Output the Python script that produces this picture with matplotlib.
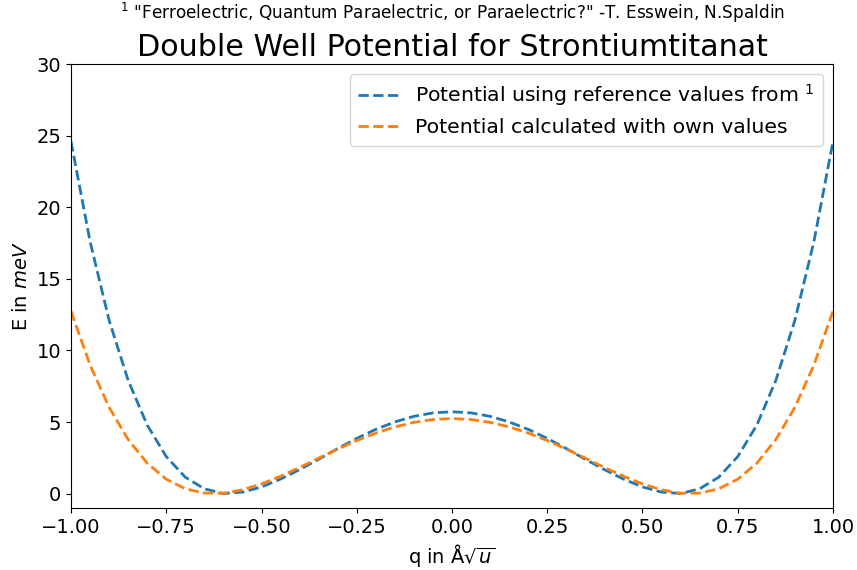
import numpy as np
import matplotlib
matplotlib.use("Agg")
import matplotlib.pyplot as plt

# displacement q in Angstrom*sqrt(u)
q = np.round(np.arange(-1.0, 1.0001, 0.05), 2)

# potential in meV, reference parameters (Esswein / Spaldin)
E_ref = [24.60, 17.61, 12.11, 7.91, 4.79, 2.59, 1.15, 0.34, 0.01, 0.11,
         0.47, 1.02, 1.68, 2.40, 3.15, 3.86, 4.49, 5.01, 5.40, 5.64,
         5.72,
         5.64, 5.40, 5.01, 4.49, 3.86, 3.15, 2.40, 1.68, 1.02, 0.47,
         0.11, 0.01, 0.34, 1.15, 2.59, 4.79, 7.91, 12.11, 17.61, 24.60]

# potential in meV, own parameters
E_own = [12.74, 8.99, 6.03, 3.78, 2.13, 1.01, 0.34, 0.04, 0.03, 0.27,
         0.68, 1.22, 1.83, 2.48, 3.11, 3.71, 4.23, 4.66, 4.98, 5.18,
         5.25,
         5.18, 4.98, 4.66, 4.23, 3.71, 3.11, 2.48, 1.83, 1.22, 0.68,
         0.27, 0.03, 0.04, 0.34, 1.01, 2.13, 3.78, 6.03, 8.99, 12.74]

fig = plt.figure(figsize=(8.57, 5.70), dpi=100)
ax = fig.add_axes([71/857, 1 - 508/570, 762/857, 444/570])

ax.plot(q, E_ref, "--", color="#1f77b4", linewidth=2,
        label="Potential using reference values from $^1$")
ax.plot(q, E_own, "--", color="#ff7f0e", linewidth=2,
        label="Potential calculated with own values")

ax.set_xlim(-1, 1)
ax.set_ylim(-1, 30)
ax.set_xticks(np.arange(-1, 1.01, 0.25))
ax.tick_params(labelsize=14)
ax.set_xlabel(r"q in Å$\sqrt{u}$", fontsize=14)
ax.set_ylabel(r"E in $meV$", fontsize=14)
ax.set_title("Double Well Potential for Strontiumtitanat", fontsize=21.7)
fig.text(0.528, 0.978, r'$^1$ "Ferroelectric, Quantum Paraelectric, or Paraelectric?" -T. Esswein, N.Spaldin',
         ha="center", va="center", fontsize=12.2)

ax.legend(loc="upper right", fontsize=14.7)

fig.savefig("out.png", dpi=100)
